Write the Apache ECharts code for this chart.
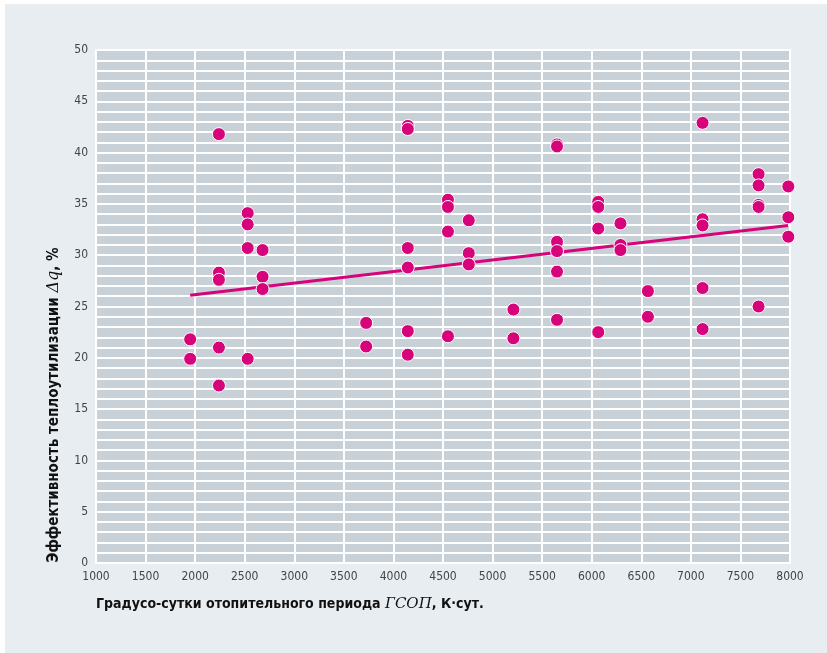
<!DOCTYPE html>
<html>
<head>
<meta charset="utf-8">
<script src="https://cdn.jsdelivr.net/npm/echarts@6/dist/echarts.min.js"></script>
<style>
  html, body { margin: 0; padding: 0; background: #ffffff; }
  #chart { position: absolute; left: 5px; top: 4px; width: 822px; height: 649px; }
</style>
</head>
<body>
<div id="chart"></div>
<script>
// Degree-days of the heating period (x) and heat-recovery efficiency, % (y)
const gsop = [
  1950, 1950,
  2240, 2240, 2240, 2240, 2240,
  2530, 2530, 2530, 2530,
  2680, 2680, 2680,
  3725, 3725,
  4145, 4145, 4145, 4145, 4145, 4145,
  4550, 4550, 4550, 4550,
  4760, 4760, 4760,
  5210, 5210,
  5650, 5650, 5650, 5650, 5650, 5650,
  6066, 6066, 6066, 6066,
  6290, 6290, 6290,
  6567, 6567,
  7118, 7118, 7118, 7118, 7118,
  7683, 7683, 7683, 7683, 7683,
  7983, 7983, 7983
];
const dq = [
  21.8, 19.9,
  41.8, 28.3, 27.6, 21.0, 17.3,
  34.1, 33.0, 30.7, 19.9,
  30.5, 27.9, 26.7,
  23.4, 21.1,
  42.6, 42.3, 30.7, 28.8, 22.6, 20.3,
  35.4, 34.7, 32.3, 22.1,
  33.4, 30.2, 29.1,
  24.7, 21.9,
  40.8, 40.6, 31.3, 30.4, 28.4, 23.7,
  35.2, 34.7, 32.6, 22.5,
  33.1, 31.0, 30.5,
  26.5, 24.0,
  42.9, 33.5, 32.9, 26.8, 22.8,
  37.9, 36.8, 34.9, 34.7, 25.0,
  36.7, 33.7, 31.8
];
// Linear trend endpoints
const trendX = [1950, 7980];
const trendY = [26.1, 32.9];

const xMin = 1000, xMax = 8000, xStep = 500;
const yMin = 0, yMax = 50, yLabelStep = 5;

const magenta = '#d6037b';
const labelFont = "'Liberation Sans Narrow','DejaVu Sans Condensed','Roboto',sans-serif";

const points = gsop.map((x, i) => [x, dq[i]]);
const trend = trendX.map((x, i) => [x, trendY[i]]);

const chart = echarts.init(document.getElementById('chart'), null, { renderer: 'canvas' });
chart.setOption({
  backgroundColor: '#e8edf1',
  animation: false,
  grid: {
    left: 91, right: 37, top: 46, bottom: 90,
    show: true,
    backgroundColor: '#c8d0d8',
    borderColor: '#ffffff',
    borderWidth: 2
  },
  xAxis: {
    type: 'value',
    min: xMin, max: xMax, interval: xStep,
    axisLine: { show: false },
    axisTick: { show: false },
    axisLabel: {
      color: '#444444', fontFamily: labelFont, fontSize: 12, margin: 8,
      formatter: v => String(v)
    },
    splitLine: { show: true, lineStyle: { color: '#ffffff', width: 2 } }
  },
  yAxis: {
    type: 'value',
    min: yMin, max: yMax, interval: 1,
    axisLine: { show: false },
    axisTick: { show: false },
    axisLabel: {
      color: '#444444', fontFamily: labelFont, fontSize: 12, margin: 8,
      formatter: v => (v % yLabelStep === 0 ? String(v) : '')
    },
    splitLine: { show: true, lineStyle: { color: '#ffffff', width: 2 } }
  },
  series: [
    {
      type: 'line',
      data: trend,
      symbol: 'none',
      lineStyle: { color: magenta, width: 3 },
      z: 2,
      silent: true
    },
    {
      type: 'scatter',
      data: points,
      symbol: 'circle',
      symbolSize: 13,
      itemStyle: { color: magenta, opacity: 1, borderColor: '#ffffff', borderWidth: 1 },
      z: 3
    }
  ],
  graphic: [
    {
      type: 'text',
      left: 91, top: 593,
      style: {
        text: '{b|Градусо-сутки отопительного периода }{i|ГСОП}{b|, К·сут.}',
        rich: {
          b: { fontFamily: labelFont, fontWeight: 'bold', fontSize: 14, fill: '#111111' },
          i: { fontFamily: "'DejaVu Serif','Liberation Serif',serif", fontStyle: 'italic', fontSize: 15, fill: '#111111' }
        }
      }
    },
    {
      type: 'text',
      x: 49, y: 401,
      rotation: Math.PI / 2,
      style: {
        text: '{b|Эффективность теплоутилизации }{i|Δq}{b|, %}',
        align: 'center',
        verticalAlign: 'middle',
        rich: {
          b: { fontFamily: labelFont, fontWeight: 'bold', fontSize: 15, fill: '#111111' },
          i: { fontFamily: "'DejaVu Serif','Liberation Serif',serif", fontStyle: 'italic', fontSize: 16, fill: '#111111' }
        }
      }
    }
  ]
});
</script>
</body>
</html>
